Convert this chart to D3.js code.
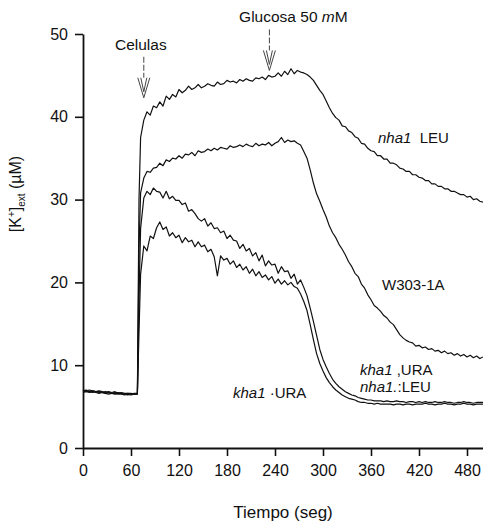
<!DOCTYPE html>
<html>
<head>
<meta charset="utf-8">
<script src="https://cdn.jsdelivr.net/npm/d3@7"></script>
<style>
  html, body { margin: 0; padding: 0; background: #fff; }
  svg text { font-family: "Liberation Sans", Arial, Helvetica, sans-serif; fill: #111; }
</style>
</head>
<body>
<svg id="chart" width="483" height="525"></svg>
<script>
// Sampling times (s): every 4 s, plus one extra sample during the cell addition step
const tiempo = d3.range(0, 69, 4).concat([70], d3.range(72, 501, 4));

// External K+ (µM) for each strain
const nha1Leu = [
  7.0, 6.9, 7.0, 6.9, 6.8, 6.9, 6.8, 6.7, 6.8, 6.7, 6.8, 6.6, 6.7, 6.6, 6.6, 6.5, 6.6, 6.6,
  30.0,
  37.5, 39.6, 40.6, 40.2, 41.3, 41.1, 41.8, 41.3, 42.5, 42.1, 42.7, 42.4,
  43.3, 42.9, 43.2, 43.7, 43.3, 43.5, 43.9, 43.5, 43.7, 44.0, 43.8, 43.7,
  44.2, 43.9, 44.0, 44.4, 44.2, 44.3, 44.1, 44.5, 44.3, 44.6, 44.4, 44.3,
  44.7, 44.6, 44.8, 44.5, 45.0, 44.8, 44.9, 45.3, 44.9, 45.5, 45.1, 45.8,
  45.2, 45.6, 45.4, 45.3, 45.1, 44.8, 44.4, 43.8, 43.2, 42.7, 41.9, 41.1,
  40.4, 39.9, 39.6, 38.9, 38.8, 38.3, 38.1, 37.6, 37.4, 36.8, 36.7, 36.2,
  35.9, 35.8, 35.3, 35.3, 34.9, 34.9, 34.4, 34.4, 34.2, 33.8, 33.7, 33.4,
  33.4, 33.0, 33.0, 32.7, 32.6, 32.3, 32.3, 31.9, 31.9, 31.6, 31.6, 31.3,
  31.3, 31.0, 31.0, 30.8, 30.6, 30.6, 30.3, 30.4, 30.0, 30.1, 29.8, 29.7
];

const w303 = [
  6.9, 7.0, 6.8, 6.9, 6.8, 6.8, 6.7, 6.8, 6.7, 6.6, 6.7, 6.7, 6.6, 6.5, 6.6, 6.6, 6.5, 6.5,
  24.0,
  30.8, 32.6, 33.4, 33.3, 33.8, 33.9, 34.4, 34.1, 34.8, 34.6, 35.0, 34.9,
  35.3, 35.0, 35.5, 35.4, 35.7, 35.3, 35.9, 35.7, 35.8, 36.1, 35.9, 36.2,
  36.0, 36.3, 36.2, 36.1, 36.5, 36.3, 36.4, 36.6, 36.4, 36.7, 36.5, 36.4,
  36.8, 36.5, 36.7, 36.6, 36.9, 36.5, 36.8, 37.0, 37.5, 36.9, 37.2, 37.0,
  37.1, 36.8, 36.6, 35.8, 35.0, 33.6, 32.0, 30.7, 29.8, 28.8, 27.9, 26.8,
  26.0, 25.4, 24.6, 24.0, 23.3, 22.5, 21.9, 21.1, 20.7, 19.8, 19.3, 18.5,
  17.9, 17.2, 16.9, 16.5, 16.0, 15.7, 15.2, 14.9, 14.3, 13.7, 13.3, 13.0,
  12.8, 12.7, 12.3, 12.4, 12.1, 12.2, 11.9, 12.0, 11.7, 11.8, 11.5, 11.7,
  11.4, 11.5, 11.2, 11.4, 11.1, 11.3, 11.0, 11.2, 10.9, 11.1, 10.8, 11.0
];

const kha1Ura = [
  6.8, 6.9, 6.8, 6.7, 6.8, 6.7, 6.7, 6.6, 6.7, 6.6, 6.5, 6.6, 6.6, 6.5, 6.4, 6.5, 6.5, 6.6,
  18.0,
  26.5, 30.2, 31.0, 30.6, 31.4, 31.0, 30.9, 30.2, 31.0, 30.1, 30.4, 29.9,
  29.9, 29.4, 29.6, 28.6, 28.8, 28.3, 27.7, 27.4, 27.7, 26.8, 27.2, 26.5,
  26.6, 26.0, 26.2, 25.3, 25.7, 25.1, 25.0, 24.1, 24.6, 23.8, 24.1, 23.2,
  23.6, 22.6, 23.3, 22.0, 22.6, 22.1, 22.2, 21.1, 21.9, 21.3, 21.4, 20.5,
  21.0, 19.8, 20.3, 19.4, 18.4, 16.9, 15.3, 13.6, 11.9, 10.7, 9.8, 9.0,
  8.3, 7.8, 7.4, 7.1, 6.8, 6.6, 6.4, 6.3, 6.1, 6.0, 5.9, 5.8,
  5.8, 5.7, 5.7, 5.7, 5.6, 5.7, 5.6, 5.6, 5.7, 5.6, 5.6, 5.5,
  5.6, 5.6, 5.5, 5.6, 5.5, 5.6, 5.5, 5.5, 5.6, 5.5, 5.5, 5.6,
  5.5, 5.5, 5.4, 5.5, 5.5, 5.6, 5.5, 5.5, 5.4, 5.5, 5.5, 5.5
];

const kha1Nha1 = [
  6.7, 6.8, 6.7, 6.8, 6.7, 6.6, 6.7, 6.6, 6.5, 6.6, 6.6, 6.5, 6.5, 6.4, 6.5, 6.4, 6.5, 6.5,
  14.0,
  21.0, 24.4, 23.8, 25.6, 25.3, 26.6, 27.3, 26.4, 26.7, 25.6, 26.0, 25.4,
  25.7, 24.8, 25.4, 24.9, 25.1, 24.3, 24.9, 24.3, 24.5, 23.7, 24.0, 23.1,
  20.8, 23.2, 22.7, 22.9, 22.2, 22.6, 21.8, 22.2, 21.5, 21.9, 21.1, 21.6,
  20.8, 21.3, 20.6, 20.9, 20.3, 20.7, 19.9, 20.4, 19.8, 20.2, 19.7, 20.0,
  19.5, 19.3, 18.6, 17.7, 16.6, 14.9, 13.1, 11.4, 10.2, 9.3, 8.5, 7.9,
  7.4, 7.0, 6.7, 6.4, 6.2, 6.0, 5.9, 5.8, 5.6, 5.5, 5.5, 5.4,
  5.4, 5.3, 5.4, 5.3, 5.3, 5.3, 5.3, 5.2, 5.3, 5.3, 5.2, 5.3,
  5.3, 5.2, 5.3, 5.3, 5.3, 5.4, 5.3, 5.3, 5.2, 5.3, 5.3, 5.4,
  5.3, 5.3, 5.2, 5.3, 5.3, 5.4, 5.3, 5.3, 5.2, 5.3, 5.3, 5.3
];

const xTicks = [0, 60, 120, 180, 240, 300, 360, 420, 480];
const yTicks = [0, 10, 20, 30, 40, 50];

// Events marked with arrows: time (s) and K+ level of the arrow tip
const eventos = [
  { texto: "Celulas", t: 76, k: 42.3 },
  { texto: "Glucosa 50 ", cursiva: "m", resto: "M", t: 233, k: 45.6 }
];

const svg = d3.select("#chart");
const x = d3.scaleLinear().domain([0, 500]).range([83, 483]);
const y = d3.scaleLinear().domain([0, 50]).range([448, 34]);

// Axes
const ax = svg.append("g")
  .attr("transform", `translate(0,${y(0)})`)
  .call(d3.axisBottom(x).tickValues(xTicks).tickSize(8).tickSizeOuter(0).tickPadding(9));
const ay = svg.append("g")
  .attr("transform", `translate(${x(0)},0)`)
  .call(d3.axisLeft(y).tickValues(yTicks).tickSize(8).tickSizeOuter(0).tickPadding(7));
[ax, ay].forEach(g => {
  g.selectAll("path.domain").attr("stroke", "#111").attr("stroke-width", 1.8);
  g.selectAll(".tick line").attr("stroke", "#111").attr("stroke-width", 1.6);
  g.selectAll(".tick text").attr("font-size", 16).attr("font-family", null).style("fill", "#111");
});

// Traces
const linea = d3.line().x((d, i) => x(tiempo[i])).y(d => y(d));
[kha1Nha1, kha1Ura, w303, nha1Leu].forEach(serie => {
  svg.append("path")
    .datum(serie)
    .attr("d", linea)
    .attr("fill", "none")
    .attr("stroke", "#111")
    .attr("stroke-width", 1.2)
    .attr("stroke-linejoin", "round");
});

// Event arrows
eventos.forEach(ev => {
  const tx = x(ev.t), ty = y(ev.k);
  const g = svg.append("g").attr("stroke", "#444").attr("fill", "none").attr("stroke-width", 1);
  g.append("line").attr("x1", tx).attr("x2", tx).attr("y1", ty - 41).attr("y2", ty - 20)
    .attr("stroke-dasharray", "6,2");
  g.append("polyline").attr("points", `${tx - 6},${ty - 20} ${tx},${ty} ${tx + 6},${ty - 20}`);
  g.append("polyline").attr("points", `${tx - 3},${ty - 20} ${tx},${ty - 6} ${tx + 3},${ty - 20}`);
  const t = svg.append("text")
    .attr("x", tx + (ev.cursiva ? 24 : -3))
    .attr("y", ty - 48)
    .attr("text-anchor", "middle")
    .attr("font-size", 15.5)
    .text(ev.texto);
  if (ev.cursiva) {
    t.append("tspan").attr("font-style", "italic").text(ev.cursiva);
    t.append("tspan").text(ev.resto);
  }
});

// Strain labels
function etiqueta(xp, yp, partes) {
  const t = svg.append("text").attr("x", xp).attr("y", yp).attr("font-size", 15);
  partes.forEach(([s, it]) => t.append("tspan").attr("font-style", it ? "italic" : "normal").text(s));
}
etiqueta(378, 143, [["nha1", true], ["\u00a0\u00a0LEU", false]]);
etiqueta(382, 290, [["W303-1A", false]]);
etiqueta(360, 375, [["kha1", true], ["\u00a0,URA", false]]);
etiqueta(360, 392, [["nha1.", true], [":LEU", false]]);
etiqueta(233, 398, [["kha1", true], ["\u00a0\u00b7URA", false]]);

// Axis titles
svg.append("text")
  .attr("x", 283).attr("y", 518)
  .attr("text-anchor", "middle")
  .attr("font-size", 17)
  .text("Tiempo (seg)");

const yt = svg.append("text")
  .attr("transform", "translate(21,194) rotate(-90)")
  .attr("text-anchor", "middle")
  .attr("font-size", 16);
yt.append("tspan").text("[K");
yt.append("tspan").attr("font-size", 10).attr("dy", -6).text("+");
yt.append("tspan").attr("dy", 6).text("]");
yt.append("tspan").attr("font-size", 10).attr("dy", 4).text("ext");
yt.append("tspan").attr("dy", -4).text(" (\u00b5M)");
</script>
</body>
</html>
